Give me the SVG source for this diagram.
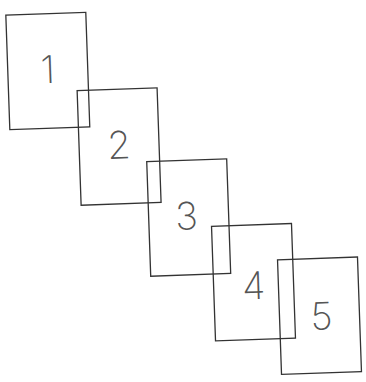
<svg xmlns="http://www.w3.org/2000/svg" width="366" height="382" viewBox="0 0 366 382">
<style>
.box{fill:none;stroke:#333;stroke-width:1.3}
.num{font-family:Inter,"DejaVu Sans",sans-serif;font-weight:200;font-size:38px;fill:#555;text-anchor:middle;dominant-baseline:central}
</style>
<rect width="366" height="382" fill="#fff"/>
<g id="node1" transform="translate(47.8,71) rotate(-2)"><rect class="box" x="-40" y="-57.3" width="80" height="114.6"/><text class="num" x="0" y="-2">1</text></g>
<g id="node2" transform="translate(119.1,146.6) rotate(-2)"><rect class="box" x="-40" y="-57.3" width="80" height="114.6"/><text class="num" x="0" y="-2">2</text></g>
<g id="node3" transform="translate(188.7,217.6) rotate(-2)"><rect class="box" x="-40" y="-57.3" width="80" height="114.6"/><text class="num" x="-2" y="-2">3</text></g>
<g id="node4" transform="translate(253.5,282.2) rotate(-2)"><rect class="box" x="-40" y="-57.3" width="80" height="114.6"/><text class="num" x="0" y="3">4</text></g>
<g id="node5" transform="translate(319.5,315.7) rotate(-2)"><rect class="box" x="-40" y="-57.3" width="80" height="114.6"/><text class="num" x="2" y="0">5</text></g>
<g id="connectors"></g>
</svg>
